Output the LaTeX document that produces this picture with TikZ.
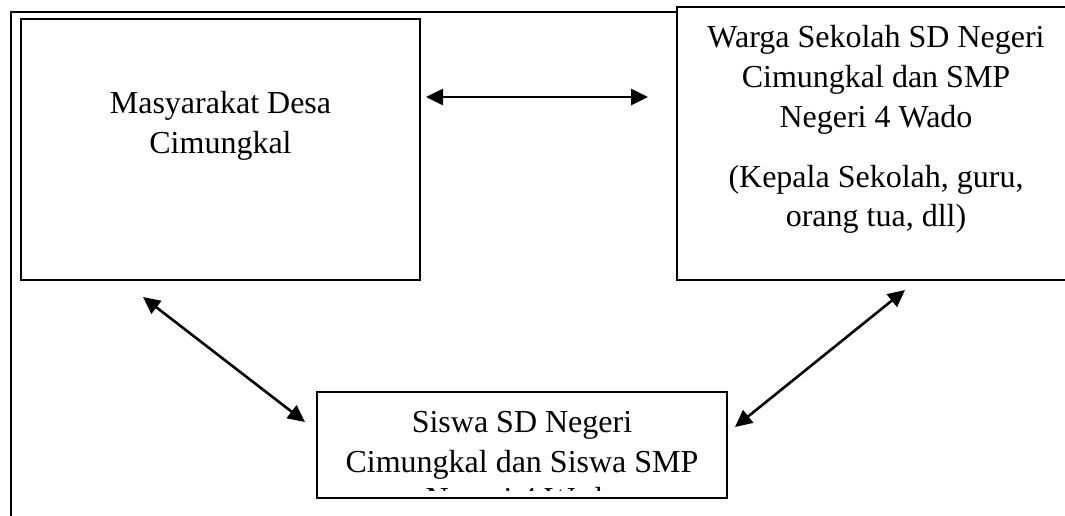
\documentclass[tikz,border=0pt]{standalone}
\usepackage{fontspec}
\setmainfont{Liberation Serif}
\usetikzlibrary{arrows.meta}
\begin{document}
\begin{tikzpicture}[x=1pt,y=-1pt,
  boxnode/.style={draw=black,line width=1.8pt,fill=white,inner sep=0pt,minimum width=#1},
  txt/.style={anchor=base,inner sep=0pt,font=\fontsize{32}{38}\selectfont},
  link/.style={line width=2.6pt,{Triangle[length=17pt,width=16pt]}-{Triangle[length=17pt,width=16pt]}}]
\useasboundingbox (0,0) rectangle (1065,515);
\begin{scope}
\clip (0,0) rectangle (1065,515);
% outer frame
\draw[line width=1.6pt] (11,530) -- (11,12) -- (700,12);
% boxes
\node[boxnode=399pt,minimum height=261pt] (left) at (220.5,149.5) {};
\node[boxnode=398pt,minimum height=273pt] (right) at (876,143.5) {};
\node[boxnode=410pt,minimum height=106pt] (bottom) at (522,445) {};
\end{scope}
% texts
\node[txt] (l1) at (220.5,113) {Masyarakat Desa};
\node[txt] (l2) at (220.5,153) {Cimungkal};
\node[txt] (r1) at (876,47) {Warga Sekolah SD Negeri};
\node[txt] (r2) at (876,87) {Cimungkal dan SMP};
\node[txt] (r3) at (876,127) {Negeri 4 Wado};
\node[txt] (r4) at (876,187) {(Kepala Sekolah, guru,};
\node[txt] (r5) at (876,226) {orang tua, dll)};
\node[txt] (b1) at (522,432) {Siswa SD Negeri};
\node[txt] (b2) at (522,472) {Cimungkal dan Siswa SMP};
\begin{scope}
\clip (317,480) rectangle (727,490.5);
\node[txt] (b3) at (522,509) {Negeri 4 Wado};
\end{scope}
% connector end points
\coordinate (h1) at (426,97);
\coordinate (h2) at (648,97);
\coordinate (d1) at (143,297);
\coordinate (d2) at (305,422);
\coordinate (e1) at (905,290);
\coordinate (e2) at (735,427);
\draw[link] (h1) -- (h2);
\draw[link] (d1) -- (d2);
\draw[link] (e1) -- (e2);
\end{tikzpicture}
\end{document}
